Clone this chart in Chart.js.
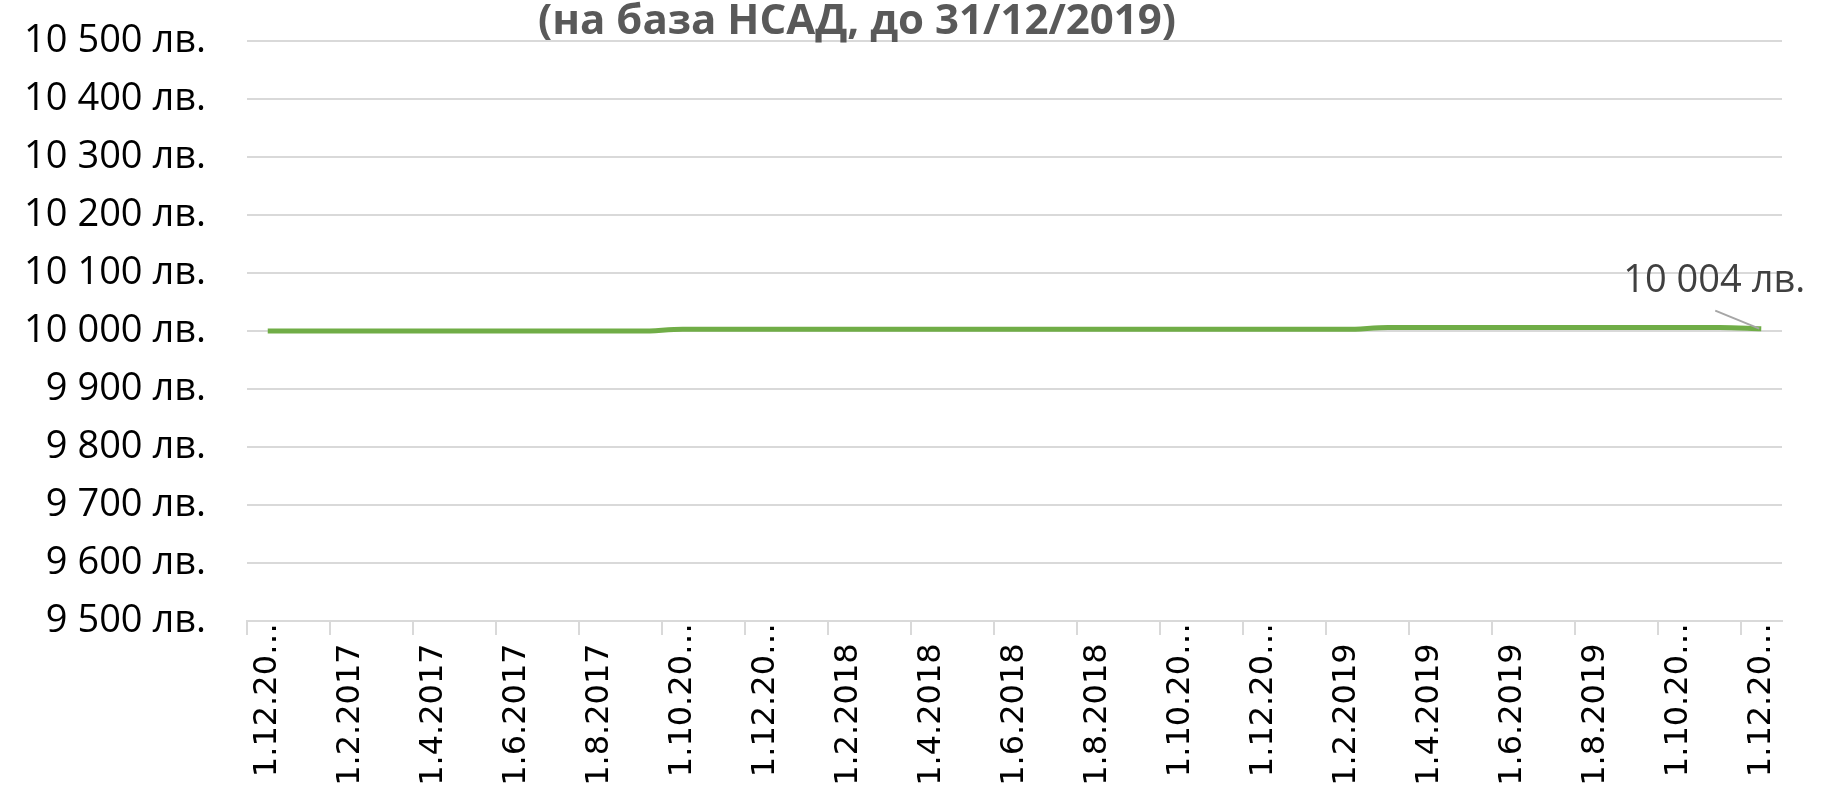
<!DOCTYPE html>
<html lang="bg">
<head>
<meta charset="utf-8">
<title>НСАД</title>
<script src="https://cdn.jsdelivr.net/npm/chart.js@4/dist/chart.umd.min.js"></script>
<style>
    html, body { margin: 0; padding: 0; background: #ffffff; overflow: hidden; }
    #navChart { display: block; }
</style>
</head>
<body>
<canvas id="navChart" width="1833" height="830"></canvas>
<script>
// Monthly dates (first day of month)
const months = [
    '1.12.2016',
    '1.1.2017', '1.2.2017', '1.3.2017', '1.4.2017', '1.5.2017', '1.6.2017',
    '1.7.2017', '1.8.2017', '1.9.2017', '1.10.2017', '1.11.2017', '1.12.2017',
    '1.1.2018', '1.2.2018', '1.3.2018', '1.4.2018', '1.5.2018', '1.6.2018',
    '1.7.2018', '1.8.2018', '1.9.2018', '1.10.2018', '1.11.2018', '1.12.2018',
    '1.1.2019', '1.2.2019', '1.3.2019', '1.4.2019', '1.5.2019', '1.6.2019',
    '1.7.2019', '1.8.2019', '1.9.2019', '1.10.2019', '1.11.2019', '1.12.2019'
];

// Value of 10 000 лв. invested (по НСАД)
const investmentValue = [
    10000, 10000, 10000, 10000, 10000, 10000, 10000, 10000, 10000, 10000,
    10003, 10003, 10003, 10003, 10003, 10003, 10003, 10003, 10003, 10003,
    10003, 10003, 10003, 10003, 10003, 10003, 10003,
    10006, 10006, 10006, 10006, 10006, 10006, 10006, 10006, 10006,
    10004
];

const titleText = '(на база НСАД, до 31/12/2019)';
const currency = ' лв.';
const yMin = 9500;
const yMax = 10500;
const yStep = 100;

document.addEventListener('DOMContentLoaded', function() {
    /**
     * 10500 -> "10 500 лв."
     */
    function formatLeva(value) {
        const rounded = Math.round(value);
        return String(rounded).replace(/\B(?=(\d{3})+(?!\d))/g, ' ') + currency;
    }

    // Title sits partly above the visible area, like the cropped original
    const titlePlugin = {
        id: 'croppedTitle',
        afterDraw(chart) {
            const ctx = chart.ctx;
            ctx.save();
            ctx.font = 'bold 42px "Open Sans"';
            ctx.fillStyle = '#595959';
            ctx.textAlign = 'center';
            ctx.textBaseline = 'middle';
            ctx.fillText(titleText, 857, 22);
            ctx.restore();
        }
    };

    // Label on the last point with a small leader line
    const lastLabelPlugin = {
        id: 'lastLabel',
        afterDatasetsDraw(chart) {
            const meta = chart.getDatasetMeta(0);
            const last = meta.data[meta.data.length - 1];
            if (!last) {
                return;
            }
            const ctx = chart.ctx;
            const value = chart.data.datasets[0].data[meta.data.length - 1];
            ctx.save();
            ctx.strokeStyle = '#a6a6a6';
            ctx.lineWidth = 2;
            ctx.beginPath();
            ctx.moveTo(last.x - 46, last.y - 18);
            ctx.lineTo(last.x - 2, last.y);
            ctx.stroke();
            ctx.font = '38px "Open Sans"';
            ctx.fillStyle = '#404040';
            ctx.textAlign = 'center';
            ctx.textBaseline = 'middle';
            ctx.fillText(formatLeva(value), last.x - 47, last.y - 48);
            ctx.restore();
        }
    };

    const canvas = document.getElementById('navChart');
    new Chart(canvas.getContext('2d'), {
        type: 'line',
        data: {
            labels: months,
            datasets: [{
                label: 'НСАД',
                data: investmentValue,
                borderColor: '#70ad47',
                backgroundColor: '#70ad47',
                borderWidth: 5,
                pointRadius: 0,
                pointHoverRadius: 0,
                fill: false,
                cubicInterpolationMode: 'monotone'
            }]
        },
        options: {
            responsive: false,
            animation: false,
            layout: {
                padding: { top: 41, right: 51, bottom: 0, left: 0 }
            },
            plugins: {
                legend: { display: false },
                title: { display: false },
                tooltip: { enabled: false }
            },
            scales: {
                x: {
                    type: 'category',
                    offset: true,
                    afterFit: function(scale) {
                        scale.height = 830 - 621;
                    },
                    border: {
                        display: true,
                        color: '#d9d9d9',
                        width: 2
                    },
                    grid: {
                        offset: true,
                        drawOnChartArea: false,
                        drawTicks: true,
                        tickLength: 14,
                        lineWidth: 2,
                        color: function(context) {
                            if (context.index !== undefined && context.index % 2 === 0 && context.index <= 36) {
                                return '#d9d9d9';
                            }
                            return 'rgba(0,0,0,0)';
                        }
                    },
                    ticks: {
                        autoSkip: false,
                        maxRotation: 90,
                        minRotation: 90,
                        padding: -12,
                        color: '#000000',
                        font: { family: '"DejaVu Sans"', size: 32 },
                        callback: function(value, index) {
                            if (index % 2 !== 0) {
                                return '';
                            }
                            const label = this.getLabelForValue(value);
                            // long dates are cut the way Excel does it
                            if (label.length > 8) {
                                return label.slice(0, 7) + '\u2026';
                            }
                            return label + '  ';
                        }
                    }
                },
                y: {
                    min: yMin,
                    max: yMax,
                    afterFit: function(scale) {
                        scale.width = 247;
                    },
                    border: { display: false },
                    grid: {
                        color: '#d9d9d9',
                        lineWidth: 2,
                        // invisible tick marks keep the labels away from the plot
                        drawTicks: true,
                        tickLength: 41,
                        tickColor: 'rgba(0,0,0,0)'
                    },
                    ticks: {
                        stepSize: yStep,
                        padding: 0,
                        color: '#000000',
                        font: { family: '"Open Sans"', size: 38 },
                        callback: function(value) {
                            return formatLeva(value);
                        }
                    }
                }
            }
        },
        plugins: [titlePlugin, lastLabelPlugin]
    });
});
</script>
</body>
</html>
